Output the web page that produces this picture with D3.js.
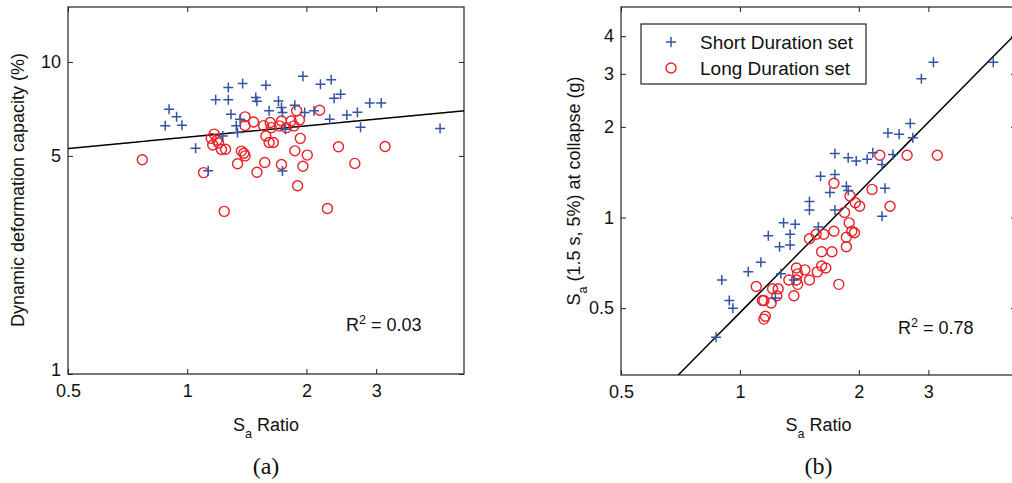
<!DOCTYPE html>
<html>
<head>
<meta charset="utf-8">
<script src="https://cdn.jsdelivr.net/npm/d3@7"></script>
<style>
  body { margin: 0; background: #fff; }
  svg text { font-family: Arial, "Liberation Sans", sans-serif; fill: #111; }
  .caption { font-family: "Times New Roman", "Liberation Serif", serif; }
  .domain { display: none; }
</style>
</head>
<body>
<svg id="chart" width="1012" height="483"></svg>
<script>
// panel (a): Sa ratio vs dynamic deformation capacity (%)
const SHORT_RATIO_A = [0.90, 0.94, 0.88, 0.97, 1.18, 1.27, 1.27, 1.38, 1.29, 1.49, 1.50, 1.58, 1.61, 1.70, 1.73, 1.74, 1.87, 1.98, 1.96, 2.17, 2.31, 2.35, 2.44, 2.09, 2.29, 2.53, 2.69, 2.89, 3.09, 2.74, 4.35, 1.05, 1.13, 1.74, 1.33, 1.34, 1.23, 1.77, 1.36];
const SHORT_CAP_A   = [7.05, 6.68, 6.24, 6.27, 7.56, 7.56, 8.28, 8.53, 6.80, 7.69, 7.48, 8.42, 6.97, 7.50, 7.14, 6.89, 7.27, 6.89, 9.00, 8.48, 8.77, 7.65, 7.88, 6.97, 6.55, 6.76, 6.90, 7.39, 7.39, 6.18, 6.12, 5.29, 4.48, 4.47, 6.24, 5.94, 5.79, 6.09, 6.55];
const LONG_RATIO_A  = [0.77, 1.10, 1.17, 1.15, 1.16, 1.20, 1.22, 1.25, 1.37, 1.39, 1.40, 1.34, 1.40, 1.40, 1.47, 1.50, 1.57, 1.56, 1.58, 1.62, 1.63, 1.61, 1.65, 1.71, 1.73, 1.73, 1.78, 1.83, 1.86, 1.89, 1.92, 1.87, 1.93, 2.01, 1.96, 1.90, 2.16, 2.41, 2.65, 3.16, 1.24, 2.26, 1.19];
const LONG_CAP_A    = [4.86, 4.42, 5.87, 5.69, 5.42, 5.50, 5.24, 5.25, 5.18, 5.10, 5.00, 4.72, 6.67, 6.26, 6.42, 4.43, 4.76, 6.25, 5.79, 6.40, 6.16, 5.52, 5.52, 6.24, 6.47, 4.69, 6.16, 6.47, 6.24, 6.97, 6.52, 5.19, 5.69, 5.03, 4.63, 4.01, 7.00, 5.35, 4.73, 5.36, 3.32, 3.39, 5.61];

// panel (b): Sa ratio vs Sa(1.5 s, 5%) at collapse (g)
const SHORT_RATIO_B = [3.09, 2.88, 4.38, 2.70, 2.37, 2.53, 2.74, 1.74, 1.88, 1.97, 2.10, 2.17, 2.29, 2.44, 1.60, 1.74, 1.69, 1.86, 1.88, 2.33, 1.50, 1.50, 1.74, 2.29, 1.58, 1.29, 1.38, 1.34, 1.18, 1.26, 1.34, 1.13, 1.05, 1.27, 0.90, 0.94, 0.96, 0.87, 1.23, 1.37];
const SHORT_SA_B    = [3.28, 2.89, 3.28, 2.05, 1.91, 1.89, 1.84, 1.63, 1.58, 1.54, 1.56, 1.64, 1.50, 1.62, 1.37, 1.39, 1.21, 1.27, 1.23, 1.25, 1.13, 1.06, 1.06, 1.01, 0.93, 0.96, 0.95, 0.88, 0.87, 0.80, 0.81, 0.71, 0.66, 0.65, 0.62, 0.53, 0.50, 0.40, 0.54, 0.62];
const LONG_RATIO_B  = [2.26, 2.65, 3.16, 1.73, 2.16, 1.90, 1.96, 2.01, 1.84, 2.40, 1.89, 1.92, 1.95, 1.86, 1.86, 1.73, 1.63, 1.56, 1.50, 1.61, 1.71, 1.78, 1.39, 1.46, 1.40, 1.39, 1.40, 1.33, 1.50, 1.57, 1.61, 1.65, 1.10, 1.21, 1.25, 1.24, 1.20, 1.15, 1.37, 1.16, 1.15, 1.14];
const LONG_SA_B     = [1.61, 1.61, 1.61, 1.30, 1.24, 1.18, 1.12, 1.09, 1.04, 1.09, 0.96, 0.90, 0.89, 0.86, 0.80, 0.90, 0.88, 0.88, 0.85, 0.77, 0.77, 0.60, 0.68, 0.67, 0.65, 0.62, 0.60, 0.62, 0.62, 0.66, 0.69, 0.68, 0.59, 0.58, 0.58, 0.55, 0.52, 0.53, 0.55, 0.47, 0.46, 0.53];

const X_TICKS = [0.5, 1, 2, 3];
const Y_TICKS_A = [1, 5, 10];
const Y_TICKS_B = [0.5, 1, 2, 3, 4];

// power-law fits y = a * x^b
const FIT_A = { a: 5.74, b: 0.121, r2: '0.03' };
const FIT_B = { a: 0.483, b: 1.326, r2: '0.78' };

const BLUE = '#3453a6';
const RED = '#ea2127';

const svg = d3.select('#chart');

function addSub(sel, main, sub, rest) {
	sel.append('tspan').text(main);
	sel.append('tspan').attr('baseline-shift', 'sub').attr('font-size', '70%').text(sub);
	sel.append('tspan').text(rest);
}

function drawPanel(p) {
	const g = svg.append('g');
	const x = d3.scaleLog().domain([0.5, 5]).range([p.left, p.right]);
	const y = d3.scaleLog().domain(p.yDomain).range([p.bottom, p.top]);
	const fmt = d => String(d);

	g.append('clipPath').attr('id', 'clip-' + p.id)
		.append('rect')
		.attr('x', p.left).attr('y', p.top)
		.attr('width', p.right - p.left).attr('height', p.bottom - p.top);

	// frame
	g.append('rect')
		.attr('x', p.left).attr('y', p.top)
		.attr('width', p.right - p.left).attr('height', p.bottom - p.top)
		.attr('fill', 'none').attr('stroke', '#222').attr('stroke-width', 1.2);

	// axes, ticks pointing inward
	g.append('g').attr('transform', `translate(0,${p.bottom})`)
		.call(d3.axisBottom(x).tickValues(X_TICKS).tickFormat(fmt).tickSize(-5).tickPadding(10))
		.call(a => a.selectAll('text').attr('font-size', 18));
	g.append('g').attr('transform', `translate(0,${p.top})`)
		.call(d3.axisTop(x).tickValues(X_TICKS).tickFormat('').tickSize(-5));
	g.append('g').attr('transform', `translate(${p.left},0)`)
		.call(d3.axisLeft(y).tickValues(p.yTicks).tickFormat(fmt).tickSize(-5).tickPadding(7))
		.call(a => a.selectAll('text').attr('font-size', 18)
			.attr('dy', d => d === p.yDomain[0] ? '0.1em' : '0.32em'));
	g.append('g').attr('transform', `translate(${p.right},0)`)
		.call(d3.axisRight(y).tickValues(p.yTicks).tickFormat('').tickSize(-5));
	g.selectAll('.tick line').attr('stroke', '#222');

	// fit line
	const xs = d3.range(0, 101).map(i => 0.5 * Math.pow(10, i / 100));
	g.append('path')
		.datum(xs)
		.attr('clip-path', `url(#clip-${p.id})`)
		.attr('fill', 'none').attr('stroke', '#000').attr('stroke-width', 1.5)
		.attr('d', d3.line().x(d => x(d)).y(d => y(p.fit.a * Math.pow(d, p.fit.b))));

	// long duration set: circles
	g.append('g').selectAll('circle')
		.data(d3.zip(p.longX, p.longY))
		.enter().append('circle')
		.attr('cx', d => x(d[0]))
		.attr('cy', d => y(d[1]))
		.attr('r', 5)
		.attr('fill', 'none').attr('stroke', RED).attr('stroke-width', 1.4);

	// short duration set: plus signs
	g.append('g').selectAll('path')
		.data(d3.zip(p.shortX, p.shortY))
		.enter().append('path')
		.attr('transform', d => `translate(${x(d[0])},${y(d[1])})`)
		.attr('d', 'M-5,0H5M0,-5V5')
		.attr('stroke', BLUE).attr('stroke-width', 1.5);

	// R^2
	const r2 = g.append('text')
		.attr('x', p.r2x).attr('y', p.r2y)
		.attr('font-size', 18);
	r2.append('tspan').text('R');
	r2.append('tspan').attr('baseline-shift', 'super').attr('font-size', '70%').text('2');
	r2.append('tspan').text(' = ' + p.fit.r2);

	// x label
	const xl = g.append('text')
		.attr('x', (p.left + p.right) / 2).attr('y', 431)
		.attr('text-anchor', 'middle').attr('font-size', 18);
	addSub(xl, 'S', 'a', ' Ratio');

	// caption
	g.append('text').classed('caption', true)
		.attr('x', (p.left + p.right) / 2).attr('y', 474)
		.attr('text-anchor', 'middle').attr('font-size', 24)
		.text(p.caption);

	return { g: g, x: x, y: y };
}

const panelA = drawPanel({
	id: 'a', left: 68, right: 464, top: 7, bottom: 374,
	yDomain: [1, 15], yTicks: Y_TICKS_A,
	shortX: SHORT_RATIO_A, shortY: SHORT_CAP_A,
	longX: LONG_RATIO_A, longY: LONG_CAP_A,
	fit: FIT_A, r2x: 346, r2y: 331, caption: '(a)'
});

svg.append('text')
	.attr('transform', 'translate(24,190) rotate(-90)')
	.attr('text-anchor', 'middle').attr('font-size', 18)
	.text('Dynamic deformation capacity (%)');

const panelB = drawPanel({
	id: 'b', left: 621, right: 1016, top: 7, bottom: 375,
	yDomain: [0.3, 5], yTicks: Y_TICKS_B,
	shortX: SHORT_RATIO_B, shortY: SHORT_SA_B,
	longX: LONG_RATIO_B, longY: LONG_SA_B,
	fit: FIT_B, r2x: 898, r2y: 334, caption: '(b)'
});

const yl = svg.append('text')
	.attr('transform', 'translate(580,191) rotate(-90)')
	.attr('text-anchor', 'middle').attr('font-size', 18);
addSub(yl, 'S', 'a', ' (1.5 s, 5%) at collapse (g)');

// legend
const legend = svg.append('g').attr('transform', 'translate(641,24)');
legend.append('rect')
	.attr('width', 225).attr('height', 60)
	.attr('fill', '#fff').attr('stroke', '#222').attr('stroke-width', 1.2);
legend.append('path')
	.attr('d', 'M25,18H35M30,13V23')
	.attr('stroke', BLUE).attr('stroke-width', 1.5);
legend.append('circle')
	.attr('cx', 30).attr('cy', 44).attr('r', 5)
	.attr('fill', 'none').attr('stroke', RED).attr('stroke-width', 1.4);
legend.append('text').attr('x', 59).attr('y', 24.5).attr('font-size', 19).text('Short Duration set');
legend.append('text').attr('x', 59).attr('y', 51).attr('font-size', 19).text('Long Duration set');
</script>
</body>
</html>
